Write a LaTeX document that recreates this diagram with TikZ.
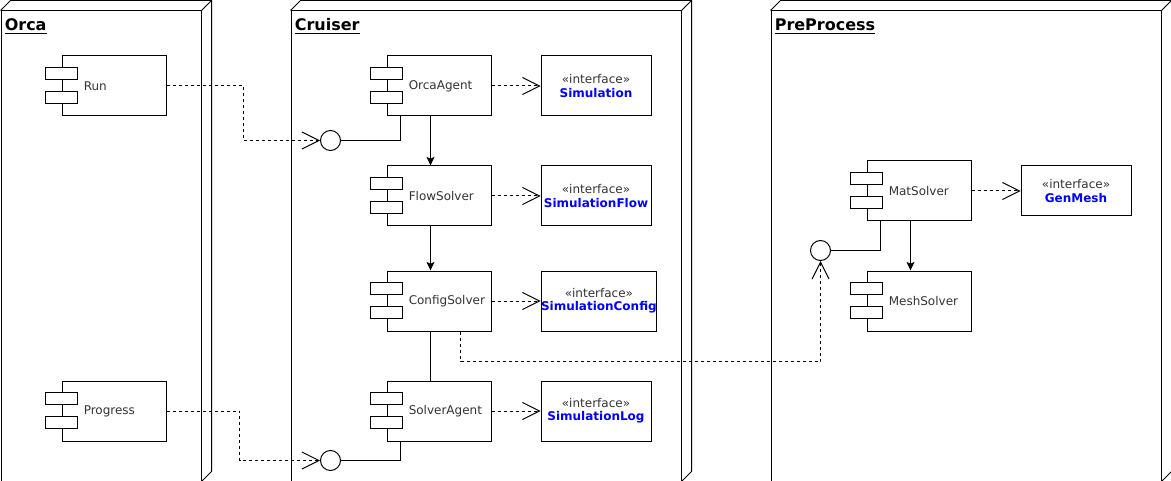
\documentclass[tikz,border=0pt]{standalone}
\usepackage{fontspec}
\setmainfont{DejaVu Sans}
\usetikzlibrary{arrows.meta,calc}
\definecolor{labelgrey}{RGB}{51,51,51}
\definecolor{ifblue}{RGB}{0,0,255}

\tikzset{
  frame/.style={draw, line width=0.75pt, fill=white, rectangle, inner sep=0pt, anchor=north west},
  nodetitle/.style={anchor=base west, inner sep=0pt, font=\fontsize{12}{14}\selectfont\bfseries},
  compbody/.style={draw, line width=0.75pt, fill=white, rectangle, inner sep=0pt, anchor=north west,
    minimum width=78pt, minimum height=45pt},
  complabel/.style={anchor=west, inner sep=0pt, text=labelgrey, font=\fontsize{9}{11}\selectfont},
  iface/.style={draw, line width=0.75pt, fill=white, rectangle, inner sep=0pt, anchor=north west,
    minimum width=82.5pt, minimum height=45pt, align=center, text=labelgrey,
    font=\fontsize{9}{10}\selectfont},
  port/.style={draw, circle, line width=0.75pt, fill=white, inner sep=0pt, minimum size=15pt},
  wire/.style={draw, line width=0.75pt},
  dep/.style={wire, dash pattern=on 2.25pt off 2.25pt,
    -{Straight Barb[length=12.75pt,width=12.75pt]}},
  flow/.style={wire, -{Stealth[length=6.5pt,width=6pt,inset=1.5pt]}},
}

% deployment node drawn as a 3D box: name, x, y, width, height, title
\newcommand\deploybox[6]{%
  \node[frame, minimum width=#4*0.75pt, minimum height=#5*0.75pt] (#1) at (#2,#3) {};
  \draw[line width=0.75pt] (#1.north west) -- ++(10,-10) -- ($(#1.north east)+(10,-10)$)
    -- ($(#1.south east)+(10,-10)$) -- (#1.south east)
    (#1.north east) -- ++(10,-10);
  \node[nodetitle] (#1-title) at ($(#1.north west)+(4,20.5)$) {\underline{#6}};
}

% UML component with its two port tabs: name, x, y, label
\newcommand\umlcomp[4]{%
  \node[compbody] (#1) at (#2+16,#3) {};
  \draw[line width=0.75pt, fill=white] ($(#1.north west)+(-16,12)$) rectangle ++(32,12);
  \draw[line width=0.75pt, fill=white] ($(#1.north west)+(-16,36)$) rectangle ++(32,12);
  \node[complabel] (#1-label) at ($(#1.west)+(22,0)$) {#4};
}

\begin{document}
\begin{tikzpicture}[x=0.75pt, y=-0.75pt]
  \useasboundingbox[fill=white] (0,0) rectangle (1171,481);

  % deployment nodes
  \deploybox{orca}{0.5}{10.5}{200}{470}{Orca}
  \deploybox{cruiser}{290.5}{10.5}{390}{470}{Cruiser}
  \deploybox{pre}{770.5}{10.5}{390}{470}{PreProcess}

  % components
  \umlcomp{run}{45.5}{55.5}{Run}
  \umlcomp{pr}{45.5}{380.5}{Progress}
  \umlcomp{oa}{370.5}{55.5}{OrcaAgent}
  \umlcomp{fs}{370.5}{165.5}{FlowSolver}
  \umlcomp{cs}{370.5}{270.5}{ConfigSolver}
  \umlcomp{sa}{370.5}{380.5}{SolverAgent}
  \umlcomp{mat}{850.5}{160.5}{MatSolver}
  \umlcomp{mesh}{850.5}{270.5}{MeshSolver}

  % interfaces
  \node[iface] (isim) at (540.5,55.5) {«interface»\\\textcolor{ifblue}{\bfseries Simulation}};
  \node[iface] (iflow) at (540.5,165.5) {«interface»\\\textcolor{ifblue}{\bfseries SimulationFlow}};
  \node[iface] (iconf) at (540.5,270.5) {«interface»\\\textcolor{ifblue}{\bfseries SimulationConfig}};
  \node[iface] (ilog) at (540.5,380.5) {«interface»\\\textcolor{ifblue}{\bfseries SimulationLog}};
  \node[iface, minimum height=37.5pt] (igen) at (1020.5,165.5) {«interface»\\\textcolor{ifblue}{\bfseries GenMesh}};

  % provided interface ports
  \node[port] (c1) at (330.5,140.5) {};
  \node[port] (c2) at (330.5,460.5) {};
  \node[port] (c3) at (820.5,250.5) {};

  % connectors
  \draw[dep] (run.east) -- ++(77,0) |- (c1);
  \draw[wire] (c1) -| ($(oa.south west)+(14,0)$);
  \draw[dep] (pr.east) -- ++(73,0) |- (c2);
  \draw[wire] (c2) -| ($(sa.south west)+(14,0)$);

  \draw[dep] (oa) -- (isim);
  \draw[dep] (fs) -- (iflow);
  \draw[dep] (cs) -- (iconf);
  \draw[dep] (sa) -- (ilog);
  \draw[dep] (mat) -- (igen);

  \draw[flow] ($(oa.south west)+(44,0)$) -- ($(fs.north west)+(44,0)$);
  \draw[flow] ($(fs.south west)+(44,0)$) -- ($(cs.north west)+(44,0)$);
  \draw[wire] ($(cs.south west)+(44,0)$) -- ($(sa.north west)+(44,0)$);

  \draw[dep] ($(cs.south west)+(74,0)$) -- ++(0,30) -| (c3);
  \draw[wire] (c3) -| ($(mat.south west)+(14,0)$);
  \draw[flow] ($(mat.south west)+(44,0)$) -- ($(mesh.north west)+(44,0)$);
\end{tikzpicture}
\end{document}
